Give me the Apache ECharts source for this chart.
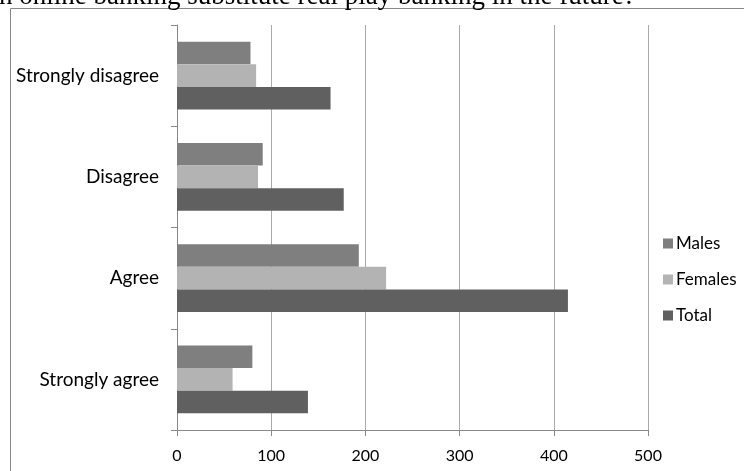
<!DOCTYPE html>
<html>
<head>
<meta charset="utf-8">
<script src="https://cdn.jsdelivr.net/npm/echarts@6/dist/echarts.min.js"></script>
<style>
html,body{margin:0;padding:0;background:#fff;}
#c{width:744px;height:471px;}
</style>
</head>
<body>
<div id="c"></div>
<script>
const categories = ['Strongly agree', 'Agree', 'Disagree', 'Strongly disagree'];
const males = [80, 193, 91, 78];
const females = [59, 222, 86, 84];
const total = [139, 415, 177, 163];
const xTicks = [0, 100, 200, 300, 400, 500];
const titleText = 'n online banking substitute real play banking in the future?';

const chart = echarts.init(document.getElementById('c'), null, {renderer: 'canvas'});
const labelFont = 'Lato';
chart.setOption({
  animation: false,
  backgroundColor: '#fff',
  grid: {left: 177, right: 96, top: 25, bottom: 41, containLabel: false},
  legend: {
    data: ['Males', 'Females', 'Total'],
    orient: 'vertical',
    left: 658, top: 230,
    itemWidth: 10, itemHeight: 10, itemGap: 19,
    icon: 'rect',
    textStyle: {fontFamily: labelFont, fontSize: 17, color: '#000', padding: [0,0,0,-2]}
  },
  xAxis: {
    type: 'value', min: xTicks[0], max: xTicks[xTicks.length - 1], interval: 100,
    axisLine: {show: true, lineStyle: {color: '#888', width: 1}},
    axisTick: {show: true, length: 6, lineStyle: {color: '#888'}},
    axisLabel: {fontFamily: labelFont, fontSize: 16, color: '#000', margin: 18},
    splitLine: {show: true, lineStyle: {color: '#aaa', width: 1}}
  },
  yAxis: {
    type: 'category', data: categories,
    axisLine: {show: true, lineStyle: {color: '#888', width: 1}},
    axisTick: {show: true, length: 6, lineStyle: {color: '#888'}},
    axisLabel: {fontFamily: labelFont, fontSize: 19, color: '#000', margin: 18}
  },
  series: [
    {name: 'Males', type: 'bar', data: males, itemStyle: {color: '#7f7f7f'}, barGap: 0, barCategoryGap: '33%'},
    {name: 'Females', type: 'bar', data: females, itemStyle: {color: '#b3b3b3'}, barGap: 0, barCategoryGap: '33%'},
    {name: 'Total', type: 'bar', data: total, itemStyle: {color: '#606060'}, barGap: 0, barCategoryGap: '33%'}
  ],
  graphic: [
    {type: 'rect', shape: {x: 10.5, y: 8.5, width: 800, height: 600}, style: {fill: 'none', stroke: '#888', lineWidth: 1}, silent: true, z: -1},
    {type: 'text', x: -1, y: -17, style: {text: titleText, font: '27px "Liberation Serif"', fill: '#000'}}
  ]
});
</script>
</body>
</html>
